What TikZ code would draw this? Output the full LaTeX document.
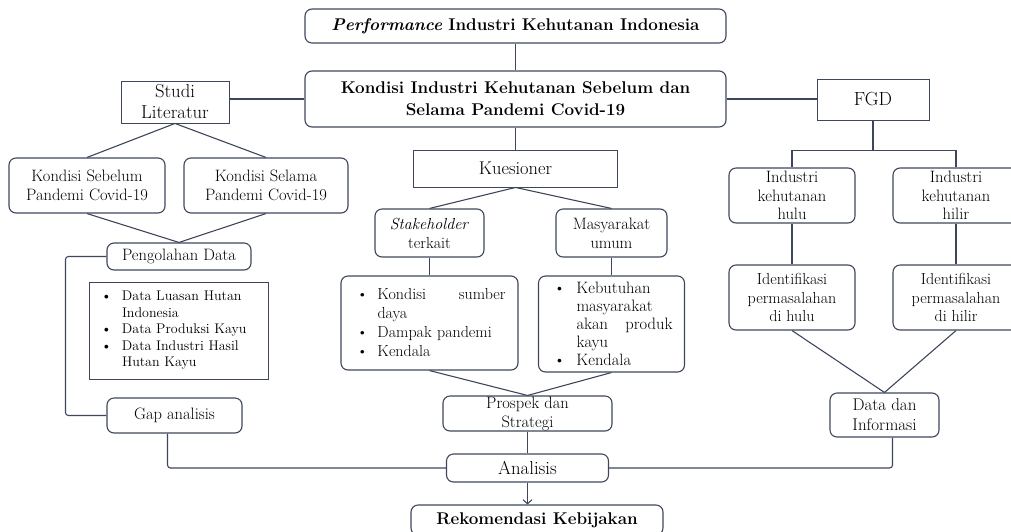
\documentclass[tikz,border=0pt]{standalone}
\usetikzlibrary{calc,arrows.meta}
\definecolor{linecol}{RGB}{62,70,92}
\newcommand{\fsz}[2]{\fontsize{#1}{#2}\selectfont}
\newcommand{\bul}[1][24pt]{\makebox[#1][l]{\hspace{3pt}\textbullet}}
\newcommand{\ind}[1][24pt]{\hspace*{#1}}

\begin{document}
\begin{tikzpicture}[x=1pt, y=-1pt, >={Straight Barb[length=4pt,width=9pt]},
  every node/.style={inner sep=0pt, align=center, font=\fsz{16.5}{19}},
  rbox/.style={draw=linecol, line width=1.1pt, rounded corners=7pt},
  sbox/.style={draw=linecol, line width=0.9pt, font=\fsz{18.7}{21}},
  link/.style={draw=linecol, line width=1.1pt},
]
  \useasboundingbox (0,0) rectangle (1011,531);
  \clip (0,0) rectangle (1011,531);
  % main spine
  \node[rbox, minimum width=421pt, minimum height=34pt, font=\fsz{17}{20}\bfseries] (perf) at (515.5,26) {\textit{Performance} Industri Kehutanan Indonesia};
  \node[rbox, minimum width=421pt, minimum height=56pt, font=\fsz{17}{22}\bfseries] (kond) at (515.5,99) {Kondisi Industri Kehutanan Sebelum dan\\ Selama Pandemi Covid-19};
  \node[sbox, minimum width=108pt, minimum height=42pt] (studi) at (175,102) {Studi\\ Literatur};
  \node[sbox, minimum width=112pt, minimum height=41pt, font=\fsz{19}{21}] (fgd) at (873,99.5) {FGD};
  \node[sbox, minimum width=204pt, minimum height=37pt, font=\fsz{18.4}{21}] (kues) at (515.5,168.5) {Kuesioner};
  %
  % left branch
  \node[rbox, minimum width=156pt, minimum height=55pt] (sblm) at (87,185.5) {Kondisi Sebelum\\ Pandemi Covid-19};
  \node[rbox, minimum width=164pt, minimum height=55pt] (slm) at (266,185.5) {Kondisi Selama\\ Pandemi Covid-19};
  \node[rbox, minimum width=144pt, minimum height=27pt] (olah) at (179,256.5) {Pengolahan Data};
  \node[draw=linecol, line width=0.9pt, minimum width=179pt, minimum height=97pt, text width=161pt, align=left, font=\fsz{14}{16.5}] (dlist) at (178.5,330.5)
  {\bul Data Luasan Hutan\\ \ind Indonesia\\ \bul Data Produksi Kayu\\ \bul Data Industri Hasil\\ \ind Hutan Kayu};
  \node[rbox, minimum width=135pt, minimum height=35pt] (gap) at (174.5,415.5) {Gap analisis};
  %
  % middle branch
  \node[rbox, minimum width=109pt, minimum height=48pt, font=\fsz{16}{19}] (stake) at (429.5,233) {\textit{Stakeholder}\\ terkait};
  \node[rbox, minimum width=111pt, minimum height=48pt] (masy) at (611.5,233) {Masyarakat\\ umum};
  \node[rbox, minimum width=177pt, minimum height=94pt, text width=152pt, align=left, font=\fsz{16}{19}] (klist) at (429.5,323)
  {\bul Kondisi\hfill sumber\\ \ind daya\\ \bul Dampak pandemi\\ \bul Kendala};
  \node[rbox, minimum width=146pt, minimum height=96pt, text width=122pt, align=left, font=\fsz{16.5}{18}] (mlist) at (611.5,324)
  {\bul[26pt]Kebutuhan\\ \ind[26pt]masyarakat\\ \ind[26pt]akan\hfill produk\\ \ind[26pt]kayu\\ \bul[26pt]Kendala};
  \node[rbox, minimum width=169pt, minimum height=35pt] (prosp) at (527.5,413.5) {Prospek dan\\ Strategi};
  \node[rbox, minimum width=162pt, minimum height=28pt, font=\fsz{18.7}{21}] (anl) at (527.5,468) {Analisis};
  \node[rbox, minimum width=252pt, minimum height=30pt, font=\fsz{17}{20}\bfseries] (rek) at (537,520) {Rekomendasi Kebijakan};
  %
  % right branch
  \node[rbox, minimum width=126pt, minimum height=55pt, font=\fsz{16.5}{18.5}] (hulu) at (792,195.5) {Industri\\ kehutanan\\ hulu};
  \node[rbox, minimum width=126pt, minimum height=55pt, font=\fsz{16.5}{18.5}] (hilir) at (956,195.5) {Industri\\ kehutanan\\ hilir};
  \node[rbox, minimum width=126pt, minimum height=65pt, font=\fsz{16}{18.5}] (idhulu) at (792,297.5) {Identifikasi\\ permasalahan\\ di hulu};
  \node[rbox, minimum width=126pt, minimum height=65pt, font=\fsz{16}{18.5}] (idhilir) at (956,297.5) {Identifikasi\\ permasalahan\\ di hilir};
  \node[rbox, minimum width=109pt, minimum height=44pt, font=\fsz{17}{20}] (info) at (884.5,415) {Data dan\\ Informasi};
  %
  % connectors
  \draw[link] (perf.south) -- (kond.north);
  \draw[link] (kond.south) -- (kues.north);
  \draw[link] (kond.west) -- (kond.west -| studi.east);
  \draw[link] (kond.east) -- (kond.east -| fgd.west);
  \draw[link] (studi.south) -- (sblm.north) (studi.south) -- (slm.north);
  \draw[link] (sblm.south) -- (olah.north) (slm.south) -- (olah.north);
  \draw[link, rounded corners=3pt] (olah.west) -- ++(-41,0) |- (gap.west);
  \draw[link, rounded corners=3pt] ([xshift=-7pt]gap.south) |- (anl.west);
  \draw[link, rounded corners=3pt] ([xshift=8pt]info.south) |- (anl.east);
  \draw[link] (kues.south) -- (stake.north) (kues.south) -- (masy.north);
  \draw[link] (stake.south) -- (klist.north) (masy.south) -- (mlist.north);
  \draw[link] (klist.south) -- (prosp.north) (mlist.south) -- (prosp.north);
  \draw[link] (prosp.south) -- (anl.north);
  \draw[link, ->] (anl.south) -- (anl.south |- rek.north);
  \draw[link] (fgd.south) -- ++(0,30) coordinate (fgdsplit) -| (hulu.north) (fgdsplit) -| (hilir.north);
  \draw[link] (hulu.south) -- (idhulu.north) (hilir.south) -- (idhilir.north);
  \draw[link] (idhulu.south) -- (info.north) (idhilir.south) -- (info.north);
\end{tikzpicture}
\end{document}
